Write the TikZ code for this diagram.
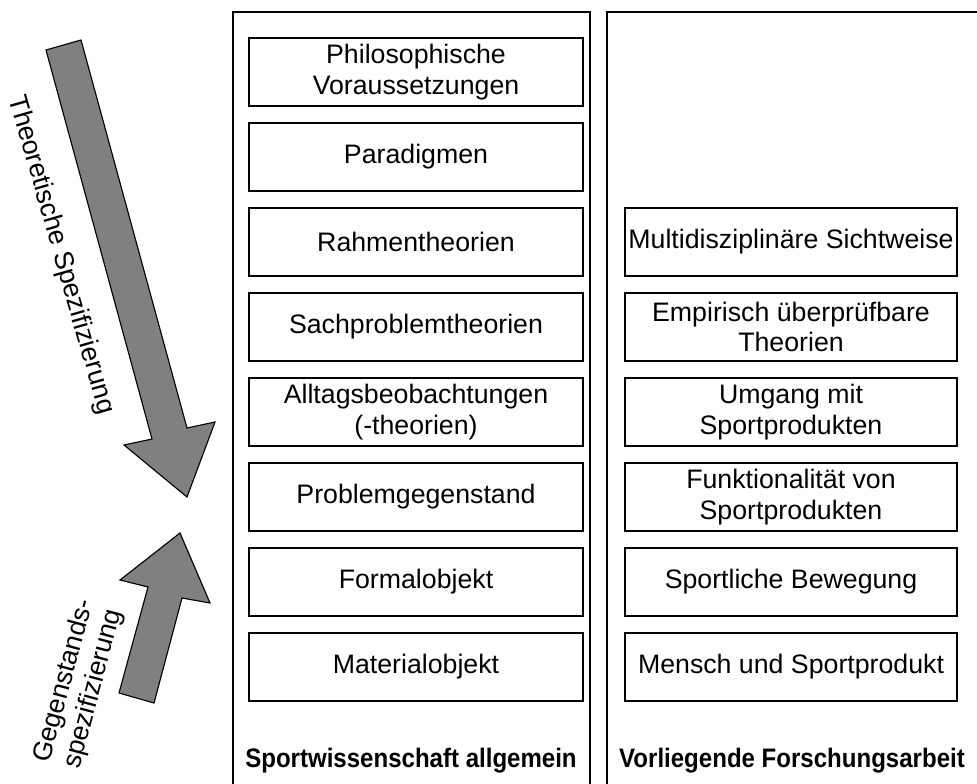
\documentclass[tikz,border=0pt]{standalone}
\usepackage{fontspec}
\setmainfont{Liberation Sans}
\definecolor{pfeilgrau}{RGB}{128,128,128}
\tikzset{
  stufe/.style={draw=black, line width=0.8pt, minimum width=8.35cm,
    minimum height=1.7cm, align=center, inner sep=0pt,
    font=\fontsize{19}{21.5}\selectfont},
  stufer/.style={stufe, minimum width=8.3cm},
  spalte/.style={draw=black, line width=0.8pt},
  titel/.style={font=\fontsize{19}{21.5}\selectfont\bfseries, xscale=0.9},
  pfeil/.style={fill=pfeilgrau, draw=black, line width=0.8pt, line join=miter},
  pfeiltext/.style={align=center, font=\fontsize{19}{21.5}\selectfont}
}
\begin{document}
\begin{tikzpicture}[x=0.025cm, y=-0.025cm]
  \useasboundingbox (0,0) rectangle (977,783);
  \clip (0,0) rectangle (977,783);
  \draw[spalte] (233,800) |- (590,12) -- (590,800);
  \draw[spalte] (607,800) |- (1000,12);
  \node[stufe] (phil) at (416,72) {Philosophische\\Voraussetzungen};
  \node[stufe] (para) at (416,157) {Paradigmen};
  \node[stufe] (rahmen) at (416,242) {Rahmentheorien};
  \node[stufe] (sach) at (416,327) {Sachproblemtheorien};
  \node[stufe] (alltag) at (416,412) {Alltagsbeobachtungen\\(-theorien)};
  \node[stufe] (problem) at (416,497) {Problemgegenstand};
  \node[stufe] (formal) at (416,582) {Formalobjekt};
  \node[stufe] (material) at (416,667) {Materialobjekt};
  \node[stufer] (multi) at (791,242) {Multidisziplinäre Sichtweise};
  \node[stufer] (empir) at (791,327) {Empirisch überprüfbare\\Theorien};
  \node[stufer] (umgang) at (791,412) {Umgang mit\\Sportprodukten};
  \node[stufer] (funktion) at (791,497) {Funktionalität von\\Sportprodukten};
  \node[stufer] (bewegung) at (791,582) {Sportliche Bewegung};
  \node[stufer] (mensch) at (791,667) {Mensch und Sportprodukt};
  \node[titel] (allg) at (411,761) {Sportwissenschaft allgemein};
  \node[titel] (forsch) at (792,761) {Vorliegende Forschungsarbeit};
  \draw[pfeil] (46,50) -- (81,40) -- (187,428) -- (215,422) -- (187,497)
    -- (124,445) -- (152,439) -- cycle;
  \draw[pfeil] (119,693) -- (154,703) -- (182,598) -- (210,603) -- (180,533)
    -- (120,580) -- (148,587) -- cycle;
  \node[pfeiltext, rotate=-74] (theo) at (61,255) {Theoretische Spezifizierung};
  \node[pfeiltext, rotate=75] (gegen) at (79,685) {Gegenstands-\\spezifizierung};
\end{tikzpicture}
\end{document}
